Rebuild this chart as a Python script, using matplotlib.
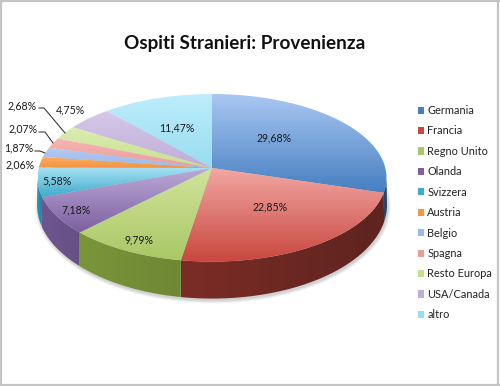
import numpy as np
import matplotlib
matplotlib.use('Agg')
import matplotlib.pyplot as plt
from matplotlib.patches import Patch, Polygon, Ellipse

# dati
paesi = ['Germania', 'Francia', 'Regno Unito', 'Olanda', 'Svizzera', 'Austria',
         'Belgio', 'Spagna', 'Resto Europa', 'USA/Canada', 'altro']
valori = [29.68, 22.85, 9.79, 7.18, 5.58, 2.06, 1.87, 2.07, 2.68, 4.75, 11.47]

# colori: chiaro, scuro, lato
col_chiaro = ['#a9c7f2', '#f2a6a2', '#d0e49c', '#bdabd8', '#a8e2f2', '#fbaa5c',
              '#b3cbf2', '#f6b6b3', '#dcedb0', '#d5c8e8', '#bdedfb']
col_scuro = ['#467fc2', '#c9473f', '#aac866', '#7d60a0', '#3eaacd', '#f59443',
             '#9bb9e8', '#eb9c98', '#c8de90', '#bfaed9', '#98dcf0']
col_lato = ['#234a72', '#7c2c26', '#7b953a', '#6f5590', '#2a96b8', '#c06a20',
            '#7090c0', '#c07070', '#90a860', '#8070a0', '#60a0b8']
col_lato2 = ['#1c3c60', '#5e241f', '#6e8834', '#655084', '#1f7f9e', '#c06a20',
             '#7090c0', '#c07070', '#90a860', '#8070a0', '#60a0b8']

# geometria della torta (pixel)
cx, cy_apice = 212, 168
k, a, c = 0.117, 82.65, 173.3
cy_top, ry_top, rx_top = 178, 84, 174.5
cy_bot, ry_bot, rx_bot = 205, 94, 175

pos_etichette = [(274, 138), (270, 207), (139, 240), (76, 210), (57, 181), (20, 165),
                 (19, 148), (23, 129), (22, 106), (70, 110), (177, 128)]
richiami = [[(35, 151), (40, 151), (45, 153)],
            [(39, 132), (45, 132), (53, 143)],
            [(39, 108), (44, 108), (65, 133)]]


def bordo(theta):
    # punto sul bordo superiore, con prospettiva
    u, v = np.sin(theta), np.cos(theta)
    w = 1 + k * v
    return cx + c * u / w, cy_apice - a * v / w


def bordo_sotto(x, y):
    ex = (x - cx) / rx_top
    ey = (y - cy_top) / ry_top
    return cx + rx_bot * ex, cy_bot + ry_bot * ey


def sfumato(ax, poly, col1, col2, verticale=True, zorder=2):
    xs, ys = poly[:, 0], poly[:, 1]
    c1 = np.array(matplotlib.colors.to_rgb(col1))
    c2 = np.array(matplotlib.colors.to_rgb(col2))
    t = np.linspace(0, 1, 64)[:, None]
    img = c1 + (c2 - c1) * t
    img = img[:, None, :] if verticale else img[None, :, :]
    im = ax.imshow(img, extent=(xs.min(), xs.max(), ys.max(), ys.min()),
                   aspect='auto', interpolation='bilinear', zorder=zorder)
    patch = Polygon(poly, closed=True, transform=ax.transData)
    im.set_clip_path(patch)


fig = plt.figure(figsize=(5, 3.86), dpi=100)
ax = fig.add_axes([0, 0, 1, 1])
ax.axis('off')

# ombra
for i in range(6):
    ax.add_patch(Ellipse((cx + 1, cy_bot + 1.5), 2 * rx_bot + 6 - i * 1.2, 2 * ry_bot + 6 - i * 1.2,
                         fc='black', ec='none', alpha=0.03, zorder=1))

fette = np.cumsum([0] + valori) / sum(valori) * 2 * np.pi

# lati
for i in range(len(valori)):
    t = np.linspace(fette[i], fette[i + 1], 80)
    x, y = bordo(t)
    xb, yb = bordo_sotto(x, y)
    keep = y >= cy_top
    if keep.sum() < 2:
        continue
    poly = np.r_[np.c_[x[keep], y[keep]], np.c_[xb[keep], yb[keep]][::-1]]
    sfumato(ax, poly, col_lato[i], col_lato2[i], verticale=False, zorder=3)

# facce superiori
for i in range(len(valori)):
    t = np.linspace(fette[i], fette[i + 1], 80)
    x, y = bordo(t)
    poly = np.r_[[[cx, cy_apice]], np.c_[x, y]]
    sfumato(ax, poly, col_chiaro[i], col_scuro[i], zorder=4)

# etichette percentuali
for v, (xt, yt) in zip(valori, pos_etichette):
    ax.text(xt, yt, f'{v:.2f}%'.replace('.', ','), ha='center', va='center',
            fontsize=7.6, family='Lato', color='#1a1a1a', zorder=6)

for r in richiami:
    ax.plot(*zip(*r), color='#222222', lw=0.7, zorder=6)

ax.text(245, 44, 'Ospiti Stranieri: Provenienza', ha='center', va='center',
        fontsize=13.6, fontweight='bold', family='Lato', color='#111111')

# legenda
handles = [Patch(fc=cs, ec='none', label=p) for p, cs in zip(paesi, col_scuro)]
leg = ax.legend(handles=handles, loc='upper left', bbox_to_anchor=(0.836, 0.728), frameon=False,
                prop={'family': 'Lato', 'size': 7.9}, handlelength=0.57, handleheight=0.62,
                handletextpad=0.28, labelspacing=0.86, borderpad=0, borderaxespad=0,
                labelcolor='#222222')

# cornice
for xs, ys in [([1, 1], [0, 386]), ([0, 500], [0.5, 0.5]), ([498, 498], [0, 386]), ([0, 500], [385, 385])]:
    ax.plot(xs, ys, color='#c4c4c4', lw=1.6, zorder=7)

ax.set_xlim(0, 500)
ax.set_ylim(386, 0)
fig.savefig('out.png', dpi=100)
